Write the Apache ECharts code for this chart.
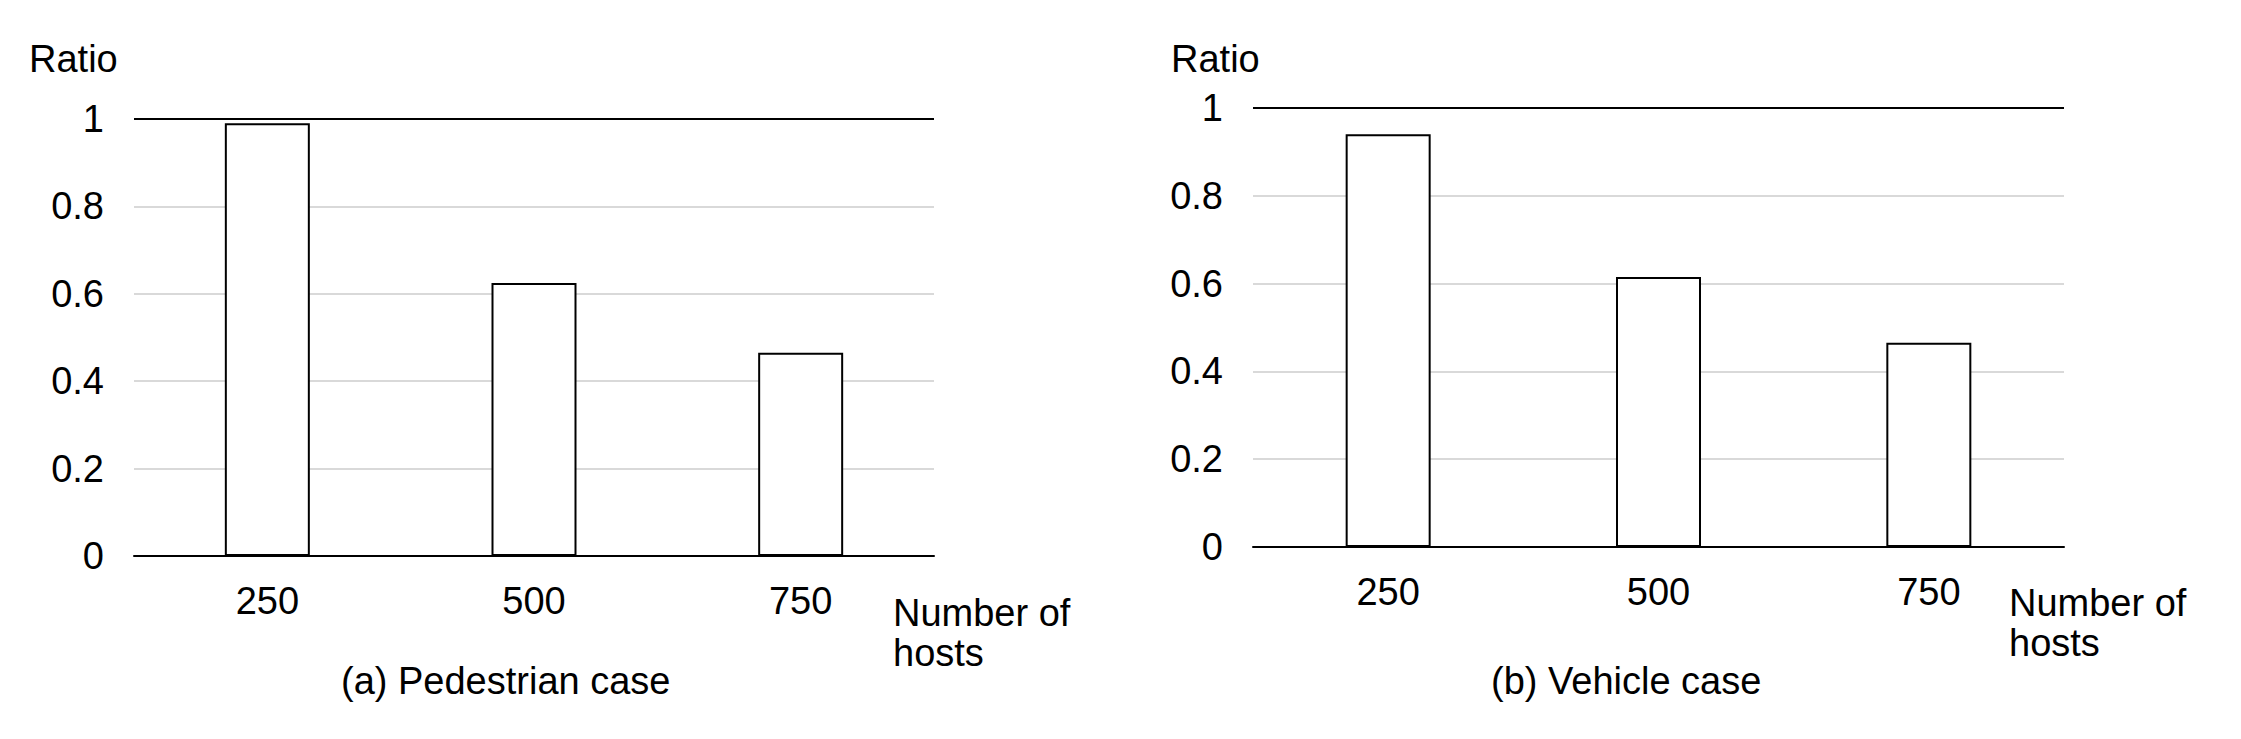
<!DOCTYPE html>
<html><head><meta charset="utf-8">
<script src="https://cdn.jsdelivr.net/npm/echarts@6/dist/echarts.min.js"></script>
<style>html,body{margin:0;background:#fff}#c{width:2241px;height:739px}</style>
</head><body><div id="c"></div>
<script>
var hosts = ['250', '500', '750'];
var pedestrian = [0.99, 0.625, 0.465];
var vehicle = [0.94, 0.615, 0.465];
var yTicks = { min: 0, max: 1, interval: 0.2 };

var font = 'Liberation Sans, Arial, sans-serif';
var chart = echarts.init(document.getElementById('c'), null, { renderer: 'svg' });

function xAx(i) {
  return {
    type: 'category', gridIndex: i, data: hosts,
    axisLine: { lineStyle: { color: '#000', width: 2 } },
    axisTick: { show: false },
    axisLabel: { color: '#000', fontSize: 38, fontFamily: font, margin: 26 }
  };
}
function yAx(i) {
  return {
    type: 'value', gridIndex: i, min: yTicks.min, max: yTicks.max, interval: yTicks.interval,
    axisLine: { show: false }, axisTick: { show: false },
    splitLine: { lineStyle: { color: '#d9d9d9', width: 2 } },
    axisLabel: { color: '#000', fontSize: 38, fontFamily: font, margin: 30,
      formatter: function (v) { return String(Math.round(v * 10) / 10); } }
  };
}
function bars(i, data) {
  return {
    type: 'bar', xAxisIndex: i, yAxisIndex: i, data: data, barWidth: 85,
    itemStyle: { color: '#fff', borderColor: '#000', borderWidth: 2 },
    markLine: { silent: true, symbol: 'none', label: { show: false },
      lineStyle: { color: '#000', width: 2, type: 'solid' }, data: [{ yAxis: 1 }] }
  };
}
var t = { color: '#000', fontSize: 38, fontWeight: 'normal', fontFamily: font, lineHeight: 40 };

chart.setOption({
  animation: false,
  grid: [
    { left: 134, width: 800, top: 119, height: 437 },
    { left: 1253, width: 811, top: 108, height: 439 }
  ],
  xAxis: [xAx(0), xAx(1)],
  yAxis: [yAx(0), yAx(1)],
  series: [bars(0, pedestrian), bars(1, vehicle)],
  title: [
    { text: 'Ratio', left: 24, top: 34, textStyle: t },
    { text: 'Ratio', left: 1166, top: 34, textStyle: t },
    { text: 'Number of\nhosts', left: 888, top: 588, textStyle: t },
    { text: 'Number of\nhosts', left: 2004, top: 578, textStyle: t },
    { text: '(a) Pedestrian case', left: 336, top: 656, textStyle: t },
    { text: '(b) Vehicle case', left: 1486, top: 656, textStyle: t }
  ]
});
</script></body></html>
